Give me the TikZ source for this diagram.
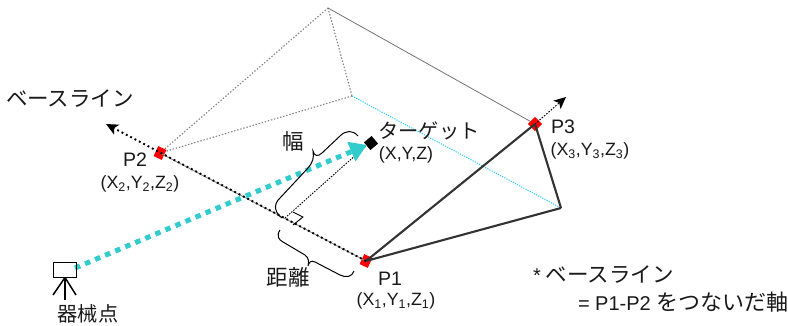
\documentclass[tikz,border=0pt]{standalone}
\usepackage{fontspec}
\setmainfont{Liberation Sans}
\newfontfamily\jp{Noto Sans CJK JP}
\newcommand{\latinnotefont}{\rmfamily\fontsize{20}{22}\selectfont}
\usetikzlibrary{arrows.meta}
\definecolor{tealc}{RGB}{51,204,204}
\definecolor{skyc}{RGB}{40,205,255}
\tikzset{
  every node/.style={inner sep=0pt,outer sep=0pt,text=black!90},
  jlabel/.style={font=\jp\fontsize{21.5}{24}\selectfont},
  jtarget/.style={font=\jp\fontsize{20.2}{24}\selectfont},
  jnote/.style={font=\jp\fontsize{22}{24}\selectfont},
  plabel/.style={font=\fontsize{19.5}{22}\selectfont},
  xyz/.style={font=\fontsize{17.8}{20}\selectfont},
  grayline/.style={draw=black!50,line width=1.1pt,dash pattern=on 1.4pt off 1.8pt},
  skyline/.style={draw=skyc,line width=1pt,dash pattern=on 1.2pt off 1.2pt},
  darkline/.style={draw=black!80,line width=2.1pt},
  axisline/.style={draw=black,line width=1.9pt,dash pattern=on 1.9pt off 3pt},
  sighting/.style={draw=tealc,line width=5pt,dash pattern=on 5.5pt off 5.4pt},
  redmark/.style={fill=red,minimum width=9pt,minimum height=11pt,rotate=-25},
  bracecurve/.style={draw=black,line width=1pt},
  instrument/.style={draw=black,line width=1.5pt}
}
\begin{document}
\begin{tikzpicture}[x=1pt,y=-1pt]
\useasboundingbox (0,0) rectangle (788,325);
% geometry
\coordinate (p1c) at (366,261);
\coordinate (p2c) at (160,153);
\coordinate (p3c) at (535,124);
\coordinate (q) at (561,208);
\coordinate (t) at (328,8);
\coordinate (r) at (352,96);
\coordinate (basetip) at (106,124);
\coordinate (p3tip) at (566,97);
\coordinate (foot) at (285,218);
\coordinate (s1) at (293,212);
\coordinate (s2) at (303,217);
\coordinate (s3) at (293,225);
\coordinate (targetc) at (371,143);
\coordinate (sightend) at (367,145);
\coordinate (sightstart) at (75,268);
% faint frame
\draw[grayline] (p2c) -- (t);
\draw[grayline] (t) -- (r);
\draw[grayline] (r) -- (p2c);
\draw[draw=black!55,line width=0.8pt] (t) -- (p3c);
\draw[skyline] (r) -- (q);
% markers
\node[redmark] (P1) at (p1c) {};
\node[redmark] (P2) at (p2c) {};
\node[fill=red,minimum width=10pt,minimum height=10pt,rotate=45] (P3) at (p3c) {};
\node[fill=black,minimum width=10pt,minimum height=10pt,rotate=40] (T) at (targetc) {};
% solid lines
\draw[darkline] (p1c) -- (p3c);
\draw[darkline] (p1c) -- (q);
\draw[darkline] (q) -- (p3c);
% axis
\draw[draw=black!45,line width=0.9pt] (p1c) -- (p2c);
\draw[axisline,-{Stealth[length=12pt,width=11pt,inset=3pt]}] (p1c) -- (basetip);
\draw[draw=black,line width=1pt,dash pattern=on 1.5pt off 1.5pt,-{Stealth[length=12pt,width=11pt,inset=3pt]}] (p3c) -- (p3tip);
% perpendicular
\draw[draw=black,line width=0.9pt,dash pattern=on 1.5pt off 1.3pt] (foot) -- (sightend);
\draw[draw=black,line width=0.9pt] (s1) -- (s2) -- (s3);
% sight line
\draw[sighting,-{Triangle[length=17pt,width=20pt]}] (sightstart) -- (sightend);
% braces
\draw[bracecurve] (282,218) .. controls (276,214) and (272,205) .. (280,198)
  -- (308,168) .. controls (313,162) and (314,158) .. (313,151)
  .. controls (314,156) and (318,157) .. (322,153)
  -- (340,136) .. controls (346,130) and (353,130) .. (358,136);
\draw[bracecurve] (280,230) .. controls (276,236) and (279,240) .. (283,242)
  -- (305,255) .. controls (309,258) and (309,262) .. (308,266)
  .. controls (309,262) and (311,260) .. (315,262)
  -- (340,275) .. controls (346,278) and (352,277) .. (354,271);
% instrument
\node[draw=black,line width=1.5pt,minimum width=23pt,minimum height=15pt,anchor=north west] (cam) at (53.5,262.5) {};
\coordinate (legl) at (53,295);
\coordinate (legr) at (76,295);
\coordinate (legc) at (65,300);
\coordinate (apex) at (cam.south);
\draw[instrument] (apex) -- (legl);
\draw[instrument] (apex) -- (legr);
\draw[instrument] (apex) -- (legc);
% labels
\node[jlabel] (lbase) at (70,99) {ベースライン};
\node[plabel] (l2) at (135,160) {P2};
\node[xyz] (x2) at (140,184) {(X\textsubscript{2},Y\textsubscript{2},Z\textsubscript{2})};
\node[plabel] (l1) at (390,279) {P1};
\node[xyz] (x1) at (396,301) {(X\textsubscript{1},Y\textsubscript{1},Z\textsubscript{1})};
\node[plabel] (l3) at (563,127) {P3};
\node[xyz] (x3) at (590,151) {(X\textsubscript{3},Y\textsubscript{3},Z\textsubscript{3})};
\node[xyz] (xt) at (406,155) {(X,Y,Z)};
\node[jtarget] (ltarget) at (429,131) {ターゲット};
\node[jlabel] (lw) at (293,141) {幅};
\node[jlabel] (ld) at (288,277) {距離};
\node[jtarget] (lc) at (88,313.5) {器械点};
\node[jlabel,anchor=west] (n1) at (533,275) {{\latinnotefont *} ベースライン};
\node[jnote,anchor=west] (n2) at (578,302) {{\latinnotefont = P1-P2 }をつないだ軸};
\end{tikzpicture}
\end{document}
